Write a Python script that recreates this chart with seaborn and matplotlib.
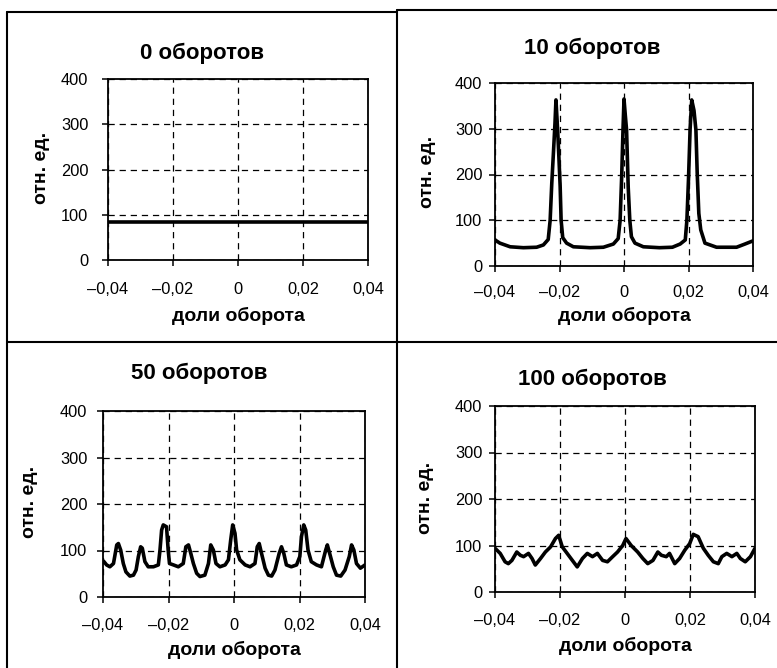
import matplotlib
matplotlib.use("Agg")
import matplotlib.pyplot as plt
from matplotlib.lines import Line2D
import seaborn as sns

# figure size in pixels (dpi 100)
W, H = 777, 668

titles = ["0 оборотов", "10 оборотов", "50 оборотов", "100 оборотов"]
x_label = "доли оборота"
y_label = "отн. ед."
x_ticks = [-0.04, -0.02, 0, 0.02, 0.04]
x_tick_labels = ["–0,04", "–0,02", "0", "0,02", "0,04"]
y_ticks = [0, 100, 200, 300, 400]

# 0 revolutions: flat level
x_0 = [-0.04, 0.04]
y_0 = [83, 83]

# 10 revolutions: sharp peaks
x_10 = [-0.0400, -0.0385, -0.0369, -0.0353, -0.0312, -0.0271, -0.0250, -0.0235, -0.0229, -0.0224,
        -0.0219, -0.0214, -0.0211, -0.0206, -0.0202, -0.0198, -0.0195, -0.0190, -0.0178, -0.0157,
        -0.0105, -0.0064, -0.0033, -0.0018, -0.0012, -0.0007, -0.0003, 0.0000, 0.0004, 0.0008,
        0.0013, 0.0018, 0.0023, 0.0034, 0.0060, 0.0110, 0.0150, 0.0174, 0.0190, 0.0195,
        0.0200, 0.0205, 0.0210, 0.0217, 0.0223, 0.0227, 0.0232, 0.0238, 0.0251, 0.0287,
        0.0349, 0.0375, 0.0400]
y_10 = [57, 50, 46, 42, 40, 41, 46, 58, 100, 180,
        245, 312, 363, 300, 240, 175, 100, 62, 50, 42,
        40, 41, 48, 60, 100, 200, 300, 365, 330, 297,
        173, 100, 64, 50, 42, 40, 41, 48, 57, 100,
        190, 300, 363, 340, 297, 203, 115, 79, 50, 41,
        41, 48, 55]

# 50 revolutions
x_50 = [-0.0400, -0.0397, -0.0389, -0.0379, -0.0368, -0.0358, -0.0353, -0.0346, -0.0338, -0.0330,
        -0.0318, -0.0307, -0.0299, -0.0292, -0.0285, -0.0280, -0.0272, -0.0262, -0.0246, -0.0231,
        -0.0226, -0.0221, -0.0216, -0.0206, -0.0201, -0.0197, -0.0185, -0.0170, -0.0155, -0.0147,
        -0.0139, -0.0132, -0.0124, -0.0114, -0.0104, -0.0089, -0.0078, -0.0071, -0.0063, -0.0055,
        -0.0043, -0.0027, -0.0017, -0.0010, -0.0004, 0.0003, 0.0008, 0.0018, 0.0034, 0.0049,
        0.0064, 0.0071, 0.0077, 0.0084, 0.0095, 0.0105, 0.0115, 0.0125, 0.0138, 0.0145,
        0.0152, 0.0160, 0.0175, 0.0191, 0.0201, 0.0206, 0.0213, 0.0219, 0.0226, 0.0236,
        0.0252, 0.0267, 0.0280, 0.0285, 0.0292, 0.0303, 0.0313, 0.0326, 0.0339, 0.0352,
        0.0359, 0.0366, 0.0374, 0.0386, 0.0400]
y_50 = [78, 76, 69, 65, 72, 112, 115, 101, 72, 54,
        45, 47, 58, 87, 108, 105, 76, 65, 65, 69,
        101, 144, 155, 151, 101, 72, 69, 65, 72, 108,
        112, 94, 72, 51, 44, 47, 72, 112, 101, 72,
        65, 69, 80, 123, 155, 137, 101, 80, 69, 65,
        72, 108, 115, 94, 62, 47, 45, 58, 94, 108,
        94, 69, 65, 69, 87, 130, 155, 144, 101, 76,
        69, 65, 101, 112, 94, 65, 47, 45, 58, 87,
        112, 101, 72, 62, 69]

# 100 revolutions
x_100 = [-0.0400, -0.0384, -0.0369, -0.0359, -0.0348, -0.0333, -0.0322, -0.0312, -0.0297, -0.0286,
         -0.0276, -0.0260, -0.0245, -0.0229, -0.0214, -0.0204, -0.0193, -0.0178, -0.0162, -0.0147,
         -0.0131, -0.0116, -0.0100, -0.0085, -0.0069, -0.0054, -0.0038, -0.0023, -0.0007, 0.0003,
         0.0019, 0.0039, 0.0055, 0.0070, 0.0086, 0.0101, 0.0112, 0.0127, 0.0137, 0.0153,
         0.0168, 0.0184, 0.0199, 0.0210, 0.0225, 0.0241, 0.0256, 0.0272, 0.0287, 0.0298,
         0.0313, 0.0329, 0.0344, 0.0355, 0.0370, 0.0386, 0.0400]
y_100 = [94, 83, 65, 61, 68, 86, 79, 76, 83, 72,
         58, 72, 86, 97, 115, 122, 97, 83, 68, 54,
         72, 83, 76, 83, 68, 65, 76, 86, 100, 115,
         100, 86, 72, 61, 68, 86, 79, 76, 83, 61,
         72, 90, 104, 124, 119, 94, 79, 65, 61, 76,
         83, 76, 83, 72, 65, 76, 94]

# layout of each panel, in pixels from the top-left corner:
# axes box (left, top, right, bottom), title centre, ylabel centre, xlabel centre, tick pads
panels = [
    dict(x=x_0, y=y_0, box=(108, 79, 368, 260), title=(202, 53),
         ylab=(41, 168), xlab=(238, 316), xpad=16, ypad=14),
    dict(x=x_10, y=y_10, box=(495, 83, 753, 266), title=(592, 48),
         ylab=(428, 172), xlab=(624, 316), xpad=13, ypad=7),
    dict(x=x_50, y=y_50, box=(103, 411, 365, 597), title=(199, 373),
         ylab=(29, 502), xlab=(234, 650), xpad=15, ypad=10),
    dict(x=x_100, y=y_100, box=(495, 406, 755, 592), title=(592, 379),
         ylab=(425, 498), xlab=(625, 646), xpad=15, ypad=7),
]


def fx(px):
    return px / W


def fy(py):
    return 1 - py / H


def main():
    sns.set_theme(style="white")
    plt.rcParams['font.family'] = ['Liberation Sans', 'DejaVu Sans']
    plt.rcParams['lines.scale_dashes'] = False

    fig = plt.figure(figsize=(W / 100, H / 100), dpi=100)
    fig.patch.set_facecolor('white')

    for i, p in enumerate(panels):
        l, t, r, b = p['box']
        ax = fig.add_axes([fx(l), fy(b), (r - l) / W, (b - t) / H])
        sns.lineplot(x=p['x'], y=p['y'], ax=ax, color='black', linewidth=2.6)

        ax.set_xlim(-0.04, 0.04)
        ax.set_ylim(0, 400)
        ax.set_xticks(x_ticks)
        ax.set_xticklabels(x_tick_labels)
        ax.set_yticks(y_ticks)
        ax.grid(True, color='black', linewidth=0.9, linestyle=(0, (4.5, 3.5)))
        for s in ax.spines.values():
            s.set_color('black')
            s.set_linewidth(1.3)
        ax.tick_params(axis='both', direction='out', length=4, width=1.1, color='black',
                       labelsize=11.8, labelcolor='black', bottom=True, left=True)
        ax.tick_params(axis='x', pad=p['xpad'] * 0.72)
        ax.tick_params(axis='y', pad=p['ypad'] * 0.72)

        ax.set_xlabel(x_label, fontsize=14, fontweight='bold', color='black')
        ax.xaxis.label.set_va('center')
        ax.xaxis.set_label_coords(fx(p['xlab'][0]), fy(p['xlab'][1]), transform=fig.transFigure)
        ax.set_ylabel(y_label, fontsize=14, fontweight='bold', color='black')
        ax.yaxis.label.set_va('center')
        ax.yaxis.set_label_coords(fx(p['ylab'][0]), fy(p['ylab'][1]), transform=fig.transFigure)

        fig.text(fx(p['title'][0]), fy(p['title'][1]), titles[i], ha='center', va='center',
                 fontsize=16, fontweight='bold', color='black')

    # panel frames
    frame = [((7, 12), (397, 12)), ((397, 10), (777, 10)),
             ((7, 12), (7, 668)), ((397, 10), (397, 668)),
             ((7, 342), (777, 342))]
    for (x0, y0), (x1, y1) in frame:
        fig.add_artist(Line2D([fx(x0), fx(x1)], [fy(y0), fy(y1)], color='black',
                              linewidth=1.5, transform=fig.transFigure))

    fig.savefig('out.png', dpi=100)
    plt.close(fig)


if __name__ == "__main__":
    main()
